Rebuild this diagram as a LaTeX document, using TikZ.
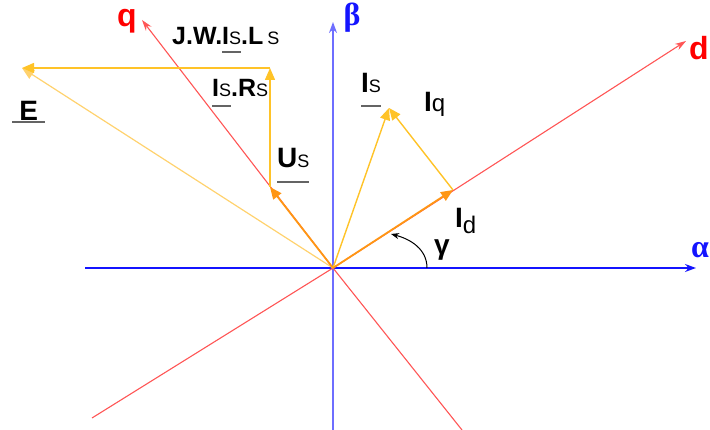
\documentclass[tikz,border=0pt]{standalone}
\usepackage{fontspec}
\setmainfont{Liberation Sans}
\newfontfamily\grkfont{Liberation Serif}
\usepackage{tikz}
\usetikzlibrary{arrows.meta}

\definecolor{axblue}{RGB}{20,20,255}
\definecolor{betablue}{RGB}{110,110,255}
\definecolor{dqred}{RGB}{255,85,85}
\definecolor{lblred}{RGB}{255,0,0}
\definecolor{vecyel}{RGB}{255,195,40}
\definecolor{vecpale}{RGB}{255,210,110}
\definecolor{vecorg}{RGB}{255,150,20}
\definecolor{ulgray}{RGB}{100,100,100}

% underlined phasor name
\newlength\ulw
\newcommand\ubar[2][9pt]{\settowidth\ulw{#2}\rlap{\textcolor{ulgray}{\rule[-#1]{\ulw}{1.6pt}}}#2}
\newcommand\sS{{\mdseries\fontsize{18}{18}\selectfont S}}

\begin{document}
\begin{tikzpicture}[
  x=1pt, y=1pt,
  ax/.style={line width=1.4pt, -{Stealth[length=11pt,width=8pt]}},
  dq/.style={dqred, line width=1.1pt},
  vec/.style={vecyel, line width=1.4pt, -{Triangle[length=12pt,width=10pt]}},
  vecd/.style={vec, vecorg, line width=1.8pt},
  lab/.style={font=\bfseries\fontsize{28}{28}\selectfont, inner sep=0pt, anchor=base west},
  axlab/.style={font=\bfseries\fontsize{32}{32}\selectfont, inner sep=0pt},
]
\useasboundingbox (0,0) rectangle (710,430);

% frames
\coordinate (O) at (333,162);
\coordinate (al0) at (85,162);
\coordinate (al1) at (696,162);
\coordinate (be0) at (333,0);
\coordinate (be1) at (333,408);
\coordinate (d0) at (92,12);
\coordinate (d1) at (686,389);
\coordinate (q0) at (462,0);
\coordinate (q1) at (142,410);

\draw[ax, axblue] (al0) -- (al1);
\draw[ax, betablue] (be0) -- (be1);
\draw[dq] (d0) -- (O);
\draw[dq, -{Stealth[length=11pt,width=7pt]}] (O) -- (d1);
\draw[dq] (q0) -- (O);
\draw[dq, -{Stealth[length=11pt,width=7pt]}] (O) -- (q1);

\node[axlab, text=axblue] (alpha) at (700,180) {\grkfont α};
\node[axlab, text=axblue] (beta) at (352,412) {\grkfont β};
\node[axlab, text=lblred] (dlab) at (699,382) {d};
\node[axlab, text=lblred] (qlab) at (127,409) {q};

% phasors
\coordinate (us) at (270,243);
\coordinate (rs) at (270,362);
\coordinate (e) at (22,362);
\coordinate (is) at (389,322);
\coordinate (id) at (453,240);

\draw[vec, vecpale, line width=1.2pt] (O) -- (e);
\draw[vec] (rs) -- (e);
\draw[vec] (us) -- (rs);
\draw[vecd] (O) -- (us);
\draw[vec] (O) -- (is);
\draw[vec] (id) -- (is);
\draw[vecd] (O) -- (id);

% angle gamma
\coordinate (g0) at (427,162);
\coordinate (g1) at (391,196);
\draw[line width=1pt, -{Stealth[length=8pt,width=6pt]}] (g0) to[out=90, in=-15] (g1);

% labels
\node[lab, font=\bfseries\fontsize{25}{25}\selectfont] (jwl) at (172,385) {J.W.\ubar[8pt]{I\sS}.L\kern4pt\sS};
\node[lab, font=\bfseries\fontsize{25}{25}\selectfont] (isrs) at (212,333) {\ubar[10pt]{I\sS}.R\sS};
\node[lab] (elab) at (12,309) {\ubar[2pt]{\makebox[33pt]{E}}};
\node[lab] (uslab) at (277,262) {\ubar[15pt]{U\sS}};
\node[lab] (islab) at (361,337) {\ubar[14pt]{I\sS}};
\node[lab] (iqlab) at (424,318) {I{\mdseries\fontsize{24}{24}\selectfont q}};
\node[lab] (idlab) at (455,202) {I\raisebox{-6pt}{\mdseries\fontsize{24}{24}\selectfont d}};
\node[lab, anchor=center] (gam) at (442,180) {γ};
\end{tikzpicture}
\end{document}
